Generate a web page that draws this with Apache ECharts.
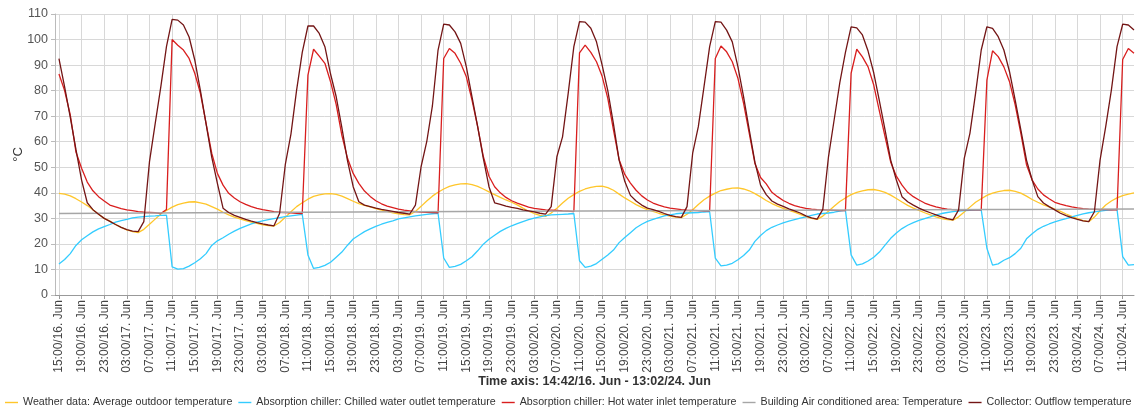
<!DOCTYPE html>
<html>
<head>
<meta charset="utf-8">
<script src="https://cdn.jsdelivr.net/npm/echarts@6/dist/echarts.min.js"></script>
<style>
html, body { margin: 0; padding: 0; background: #fff; }
#chart { width: 1145px; height: 411px; }
</style>
</head>
<body>
<div id="chart"></div>
<script>
// hourly samples, first one at 15:00/16. Jun (hour 15 counted from 00:00/16. Jun)
const firstHour = 15;

// Weather data: Average outdoor temperature
const outdoorTemp = [
  39.8, 39.5, 38.8, 37.7, 36.4, 35.0, 33.4, 31.6, 30.0,
  28.9, 27.6, 26.5, 25.5, 24.8, 24.4, 25.7, 27.7, 29.7, 31.7, 33.1, 34.4, 35.4, 36.0, 36.4, 36.5, 36.1, 35.6, 34.6, 33.6, 32.4, 31.4, 30.5, 29.8,
  29.1, 28.5, 28.0, 27.5, 27.2, 27.0, 28.4, 30.4, 32.6, 34.6, 36.1, 37.5, 38.6, 39.2, 39.6, 39.7, 39.4, 38.7, 37.7, 36.7, 35.8, 35.1, 34.5, 33.8,
  33.2, 32.7, 32.2, 31.8, 31.5, 31.4, 32.7, 34.7, 36.8, 38.7, 40.2, 41.5, 42.5, 43.1, 43.5, 43.6, 43.2, 42.5, 41.5, 40.4, 39.3, 38.2, 37.2, 36.3,
  35.3, 34.0, 32.8, 31.9, 31.2, 30.8, 32.1, 34.0, 36.0, 37.9, 39.3, 40.6, 41.5, 42.1, 42.5, 42.6, 42.0, 41.0, 39.5, 38.0, 36.7, 35.4, 34.3, 33.4,
  32.7, 32.0, 31.4, 30.9, 30.5, 30.3, 31.6, 33.4, 35.4, 37.3, 38.7, 39.9, 40.9, 41.4, 41.8, 41.9, 41.5, 40.8, 39.7, 38.4, 37.0, 35.8, 34.8, 33.9,
  33.1, 32.4, 31.6, 30.7, 30.0, 29.6, 30.9, 32.8, 34.7, 36.6, 38.0, 39.3, 40.2, 40.8, 41.2, 41.3, 40.9, 40.2, 39.1, 37.8, 36.4, 35.1, 34.0, 33.1,
  32.2, 31.4, 30.6, 29.9, 29.5, 29.3, 30.6, 32.5, 34.4, 36.3, 37.7, 39.0, 39.9, 40.5, 40.9, 41.0, 40.6, 39.9, 38.7, 37.4, 36.3, 35.3, 34.5, 33.6,
  32.7, 31.7, 30.8, 29.9, 29.1, 28.7, 30.5, 33.0, 35.2, 36.8, 38.0, 38.9, 39.5, 40.0
];

// Absorption chiller: Chilled water outlet temperature
const chilledOutlet = [
  12.1, 13.9, 16.2, 19.4, 21.6, 23.2, 24.7, 25.9, 26.8,
  27.6, 28.5, 29.1, 29.6, 30.2, 30.5, 30.7, 30.9, 31.0, 31.2, 31.3, 11.0, 10.1, 10.3, 11.3, 12.6, 14.2, 16.2, 19.4, 21.2, 22.4, 23.8, 25.0, 26.1,
  27.0, 27.8, 28.5, 29.0, 29.5, 29.9, 30.3, 30.7, 31.0, 31.3, 31.6, 15.7, 10.4, 10.8, 11.6, 12.8, 14.8, 16.8, 19.5, 21.9, 23.4, 24.8, 25.9, 26.9,
  27.7, 28.4, 29.0, 29.8, 30.2, 30.6, 31.0, 31.3, 31.6, 31.8, 32.0, 14.5, 10.8, 11.2, 12.0, 13.4, 15.0, 17.3, 19.9, 21.8, 23.4, 24.9, 26.1, 27.1,
  27.9, 28.7, 29.5, 30.1, 30.6, 31.1, 31.4, 31.5, 31.6, 31.7, 31.9, 13.4, 10.8, 11.3, 12.3, 14.0, 15.7, 17.6, 20.5, 22.5, 24.4, 26.3, 27.7, 28.8,
  29.6, 30.3, 31.0, 31.4, 31.8, 32.0, 32.1, 32.2, 32.3, 32.5, 32.6, 14.4, 11.4, 11.7, 12.4, 13.8, 15.5, 17.6, 21.0, 23.3, 25.2, 26.5, 27.4, 28.2,
  28.9, 29.5, 30.1, 30.6, 31.2, 31.7, 31.9, 32.1, 32.4, 32.8, 33.1, 15.7, 11.7, 12.2, 13.3, 14.8, 16.8, 19.5, 22.2, 24.3, 26.0, 27.3, 28.3, 29.2,
  29.9, 30.6, 31.4, 31.9, 32.3, 32.6, 32.8, 33.0, 33.1, 33.2, 33.3, 18.3, 11.7, 12.2, 13.6, 14.6, 16.2, 18.3, 22.0, 24.0, 25.7, 26.9, 27.8, 28.6,
  29.3, 29.9, 30.6, 31.2, 31.8, 32.2, 32.5, 32.8, 33.1, 33.3, 33.5, 15.0, 11.7, 11.9
];

// Absorption chiller: Hot water inlet temperature
const hotInlet = [
  86.5, 80.0, 70.5, 56.0, 49.6, 44.2, 40.8, 38.5, 36.8,
  35.2, 34.5, 33.8, 33.3, 33.0, 32.6, 32.4, 32.3, 32.2, 31.9, 33.5, 100.0, 97.8, 95.9, 92.6, 86.8, 78.9, 67.2, 55.5, 47.6, 43.0, 39.8, 38.0, 36.5,
  35.5, 34.6, 33.9, 33.4, 33.0, 32.6, 32.4, 32.3, 32.2, 32.0, 31.9, 86.1, 96.2, 93.5, 90.7, 83.5, 74.5, 62.5, 53.5, 47.6, 43.7, 40.7, 38.6, 36.9,
  35.7, 34.8, 34.2, 33.6, 33.2, 32.9, 32.6, 32.5, 32.4, 32.3, 32.2, 92.6, 96.5, 94.6, 90.7, 85.4, 76.3, 65.9, 54.2, 46.5, 42.4, 40.0, 38.2, 36.9,
  36.0, 35.2, 34.4, 33.9, 33.6, 33.3, 33.2, 33.1, 32.9, 32.8, 32.6, 94.8, 97.8, 95.0, 91.3, 85.6, 77.0, 64.6, 53.0, 47.2, 43.8, 41.0, 38.8, 37.2,
  36.0, 35.2, 34.5, 34.0, 33.7, 33.4, 33.2, 33.1, 33.0, 32.9, 32.9, 92.6, 97.5, 95.2, 91.3, 84.8, 75.0, 63.3, 51.5, 46.0, 43.5, 40.2, 38.5, 37.0,
  35.9, 35.0, 34.4, 33.9, 33.6, 33.4, 33.3, 33.2, 33.1, 33.0, 33.0, 86.8, 96.2, 93.2, 89.3, 82.2, 72.0, 62.0, 52.0, 46.5, 43.0, 40.2, 38.5, 37.2,
  36.0, 35.2, 34.5, 34.0, 33.6, 33.4, 33.3, 33.3, 33.3, 33.3, 33.3, 84.1, 95.6, 93.3, 89.3, 83.5, 74.4, 63.3, 51.0, 45.0, 41.5, 39.2, 37.7, 36.3,
  35.6, 35.0, 34.5, 34.1, 33.8, 33.6, 33.5, 33.4, 33.4, 33.3, 33.3, 92.2, 96.5, 94.6
];

// Collector: Outflow temperature
const collectorOut = [
  92.5, 81.5, 69.5, 57.0, 45.0, 36.1, 33.4, 31.6, 30.0,
  28.8, 27.6, 26.5, 25.6, 25.0, 24.8, 28.7, 52.2, 67.0, 81.5, 97.2, 107.9, 107.6, 105.7, 101.0, 92.0, 80.0, 67.0, 54.0, 43.7, 34.0, 32.3, 31.2, 30.4,
  29.6, 28.9, 28.3, 27.8, 27.4, 27.1, 32.0, 51.0, 63.0, 80.2, 95.0, 105.3, 105.3, 102.4, 97.2, 86.5, 77.6, 65.5, 52.5, 42.4, 36.5, 35.2, 34.6, 34.0,
  33.5, 33.1, 32.7, 32.3, 32.0, 31.7, 35.2, 50.2, 60.0, 74.0, 95.9, 106.0, 105.7, 103.0, 98.5, 89.3, 77.6, 65.9, 53.5, 42.4, 36.1, 35.5, 34.8, 34.3,
  33.9, 33.3, 32.9, 32.5, 32.0, 31.7, 34.6, 54.1, 61.9, 78.9, 97.2, 107.0, 106.8, 104.4, 99.1, 90.0, 80.0, 67.0, 52.8, 44.5, 39.0, 36.8, 35.2, 34.0,
  33.4, 32.7, 31.9, 31.2, 30.7, 30.4, 34.6, 55.5, 65.9, 81.5, 97.2, 107.0, 106.8, 103.7, 99.1, 89.3, 77.6, 64.6, 52.0, 43.0, 39.3, 36.8, 35.6, 34.7,
  33.7, 32.9, 32.1, 31.0, 30.2, 29.7, 33.5, 54.0, 68.5, 83.0, 95.0, 105.0, 104.6, 101.8, 95.5, 87.0, 76.0, 64.6, 52.8, 45.0, 38.5, 36.5, 35.2, 34.0,
  33.0, 32.2, 31.4, 30.6, 29.9, 29.4, 33.3, 53.5, 63.3, 78.9, 95.9, 105.0, 104.4, 101.1, 95.9, 87.4, 76.3, 64.6, 52.8, 45.0, 38.5, 36.0, 34.6, 33.3,
  32.0, 31.1, 30.3, 29.6, 29.0, 28.7, 32.6, 52.8, 65.9, 80.2, 97.2, 106.0, 105.7, 103.7
];

// Building Air conditioned area: Temperature (slow drift, read at a few times)
const buildingHours = [15, 48, 96, 144, 192, 205];
const buildingTemp = [31.9, 32.25, 32.75, 33.2, 33.55, 33.7];

// tick positions (hours from 00:00/16. Jun), every 4 h
const tickHours = [15, 19, 23, 27, 31, 35, 39, 43, 47, 51, 55, 59, 63, 67, 71, 75, 79, 83, 87, 91, 95, 99,
  103, 107, 111, 115, 119, 123, 127, 131, 135, 139, 143, 147, 151, 155, 159, 163, 167, 171, 175, 179,
  183, 187, 191, 195, 199, 203];

const seriesNames = [
  'Weather data: Average outdoor temperature',
  'Absorption chiller: Chilled water outlet temperature',
  'Absorption chiller: Hot water inlet temperature',
  'Building Air conditioned area: Temperature',
  'Collector: Outflow temperature'
];
const seriesColors = ['#FFC62A', '#33CCFF', '#D91E1E', '#A6A6A6', '#731515'];

function tickLabel(v) {
  const day = 16 + Math.floor(v / 24);
  const hh = Math.round(v % 24);
  return (hh < 10 ? '0' : '') + hh + ':00/' + day + '. Jun';
}

function toPairs(arr) {
  return arr.map((v, i) => [firstHour + i, v]);
}

const chart = echarts.init(document.getElementById('chart'));
const fontFamily = '"Liberation Sans", Arial, sans-serif';

const option = {
  animation: false,
  textStyle: { fontFamily: fontFamily },
  grid: { left: 55, right: 11, top: 14, bottom: 116, containLabel: false, outerBoundsMode: 'none' },
  legend: {
    data: seriesNames,
    left: 0,
    top: 392,
    width: 1145,
    icon: 'rect',
    itemWidth: 13,
    itemHeight: 1.4,
    itemGap: 6,
    textStyle: { fontSize: 10.7, color: '#333', fontFamily: fontFamily }
  },
  xAxis: {
    type: 'value',
    min: 14.3,
    max: 205,
    name: 'Time axis: 14:42/16. Jun - 13:02/24. Jun',
    nameLocation: 'middle',
    nameGap: 80,
    nameMoveOverlap: false,
    nameTextStyle: { fontSize: 12.5, fontWeight: 'bold', color: '#333', fontFamily: fontFamily },
    axisLine: { lineStyle: { color: '#999' } },
    axisTick: { show: true, length: 4, lineStyle: { color: '#999' }, customValues: tickHours },
    axisLabel: {
      customValues: tickHours,
      rotate: 90,
      fontSize: 12,
      color: '#444',
      margin: 5,
      formatter: tickLabel
    },
    splitLine: { show: true, lineStyle: { color: '#d8d8d8' } }
  },
  yAxis: {
    type: 'value',
    min: 0,
    max: 110,
    interval: 10,
    name: '°C',
    nameLocation: 'middle',
    nameGap: 30,
    nameMoveOverlap: false,
    nameRotate: 90,
    nameTextStyle: { fontSize: 13, color: '#333', fontFamily: fontFamily },
    axisLine: { show: true, lineStyle: { color: '#bbb' } },
    axisTick: { show: true, length: 4, lineStyle: { color: '#bbb' } },
    axisLabel: { fontSize: 12.5, color: '#555', margin: 7 },
    splitLine: { show: true, lineStyle: { color: '#d8d8d8' } }
  },
  series: [
    {
      name: seriesNames[0], type: 'line', data: toPairs(outdoorTemp),
      showSymbol: false, symbol: 'none', color: seriesColors[0],
      lineStyle: { width: 1.3, color: seriesColors[0] }
    },
    {
      name: seriesNames[1], type: 'line', data: toPairs(chilledOutlet),
      showSymbol: false, symbol: 'none', color: seriesColors[1],
      lineStyle: { width: 1.3, color: seriesColors[1] }
    },
    {
      name: seriesNames[2], type: 'line', data: toPairs(hotInlet),
      showSymbol: false, symbol: 'none', color: seriesColors[2],
      lineStyle: { width: 1.3, color: seriesColors[2] }
    },
    {
      name: seriesNames[3], type: 'line',
      data: buildingHours.map((h, i) => [h, buildingTemp[i]]),
      showSymbol: false, symbol: 'none', color: seriesColors[3],
      lineStyle: { width: 1.5, color: seriesColors[3] }
    },
    {
      name: seriesNames[4], type: 'line', data: toPairs(collectorOut),
      showSymbol: false, symbol: 'none', color: seriesColors[4],
      lineStyle: { width: 1.3, color: seriesColors[4] }
    }
  ]
};

chart.setOption(option);
</script>
</body>
</html>
